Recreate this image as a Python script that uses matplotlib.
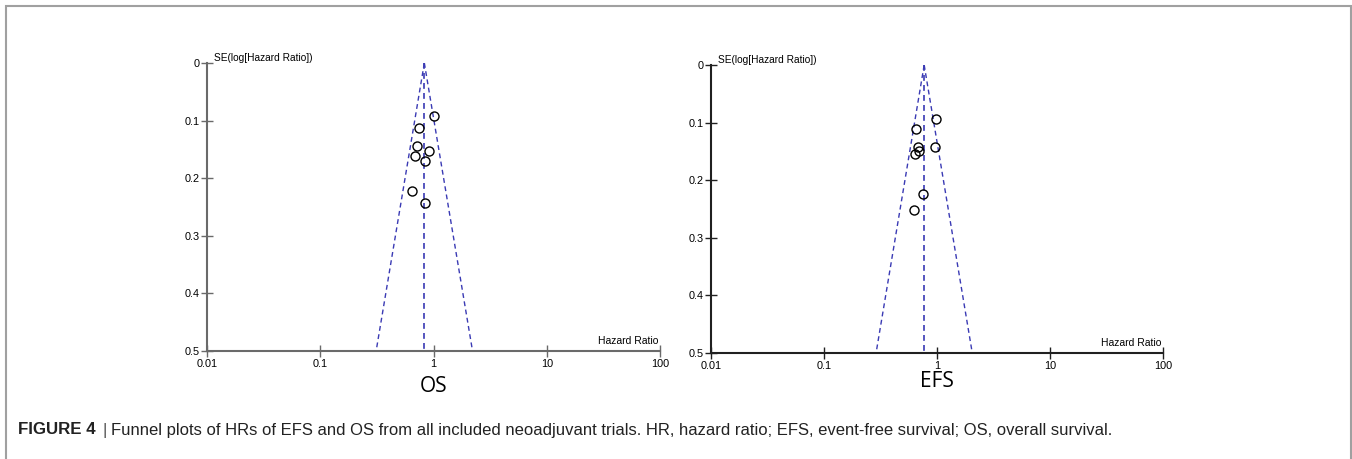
import numpy as np
import matplotlib
matplotlib.use("Agg")
import matplotlib.pyplot as plt
from matplotlib.patches import Rectangle

plt.rcParams["font.family"] = ["Liberation Sans", "DejaVu Sans"]

# --- data ---
os_hr = [1.01, 0.745, 0.72, 0.92, 0.686, 0.843, 0.645, 0.843]
os_se = [0.0925, 0.113, 0.1445, 0.152, 0.162, 0.1705, 0.222, 0.243]
os_pooled = 0.83

efs_hr = [0.974, 0.648, 0.684, 0.966, 0.697, 0.635, 0.752, 0.626]
efs_se = [0.0936, 0.111, 0.1427, 0.142, 0.150, 0.154, 0.2236, 0.252]
efs_pooled = 0.77

x_ticks = [0.01, 0.1, 1, 10, 100]
x_tick_labels = ["0.01", "0.1", "1", "10", "100"]
y_ticks = [0, 0.1, 0.2, 0.3, 0.4, 0.5]
y_tick_labels = ["0", "0.1", "0.2", "0.3", "0.4", "0.5"]

fig = plt.figure(figsize=(13.52, 4.59), dpi=100)

# page frame (top, left, right; bottom runs off the image)
fig.patches.append(Rectangle((6 / 1352, -0.1), 1344.5 / 1352, (459 - 6) / 459 + 0.1,
                             transform=fig.transFigure, fill=False,
                             edgecolor="#a0a0a0", linewidth=1.5))

blue = "#3a3ab4"


def funnel(ax, hr, se, pooled, name, name_y, spine_color):
    se_line = np.array([0.0, 0.5])
    lo = pooled * np.exp(-1.96 * se_line)
    hi = pooled * np.exp(1.96 * se_line)
    ax.plot(lo, se_line, color=blue, linestyle=(0, (3.5, 2.5)), linewidth=1.0)
    ax.plot(hi, se_line, color=blue, linestyle=(0, (3.5, 2.5)), linewidth=1.0)
    ax.plot([pooled, pooled], se_line, color=blue, linestyle=(0, (3.5, 2.5)), linewidth=1.2)
    ax.plot(hr, se, linestyle="none", marker="o", markersize=6.5,
            markerfacecolor="none", markeredgecolor="black", markeredgewidth=1.0)

    ax.set_xscale("log")
    ax.set_xlim(0.01, 100)
    ax.set_ylim(0.5, 0)
    ax.set_xticks(x_ticks)
    ax.set_xticklabels(x_tick_labels)
    ax.set_yticks(y_ticks)
    ax.set_yticklabels(y_tick_labels)
    ax.minorticks_off()
    ax.tick_params(direction="inout", length=9, width=1.0, labelsize=7.8,
                   color=spine_color, pad=1)
    for side in ["top", "right"]:
        ax.spines[side].set_visible(False)
    for side in ["left", "bottom"]:
        ax.spines[side].set_color(spine_color)
        ax.spines[side].set_linewidth(1.5)

    ax.text(0.0115, 0.0, "SE(log[Hazard Ratio])", fontsize=7.3, ha="left", va="bottom",
            clip_on=False)
    ax.text(97, 0.492, "Hazard Ratio", fontsize=7.5, ha="right", va="bottom")
    ax.text(1.0, name_y, name, fontsize=15, ha="center", va="center",
            family=["Open Sans", "DejaVu Sans"], clip_on=False)


ax_os = fig.add_axes([207 / 1352, 1 - 351 / 459, 453 / 1352, 288 / 459])
funnel(ax_os, os_hr, os_se, os_pooled, "OS", 0.562, "#6a6a6a")

ax_efs = fig.add_axes([711 / 1352, 1 - 353 / 459, 452 / 1352, 288 / 459])
funnel(ax_efs, efs_hr, efs_se, efs_pooled, "EFS", 0.55, "#202020")

cap_y = 1 - 430 / 459
fig.text(18 / 1352, cap_y, "FIGURE 4", fontsize=12.2, fontweight="bold",
         ha="left", va="center", color="#222222")
fig.text(102 / 1352, cap_y, "|", fontsize=12, ha="left", va="center", color="#555555")
fig.text(111 / 1352, cap_y,
         "Funnel plots of HRs of EFS and OS from all included neoadjuvant trials. "
         "HR, hazard ratio; EFS, event-free survival; OS, overall survival.",
         fontsize=12.0, ha="left", va="center", color="#222222")

fig.savefig("out.png", dpi=100, facecolor="white")
